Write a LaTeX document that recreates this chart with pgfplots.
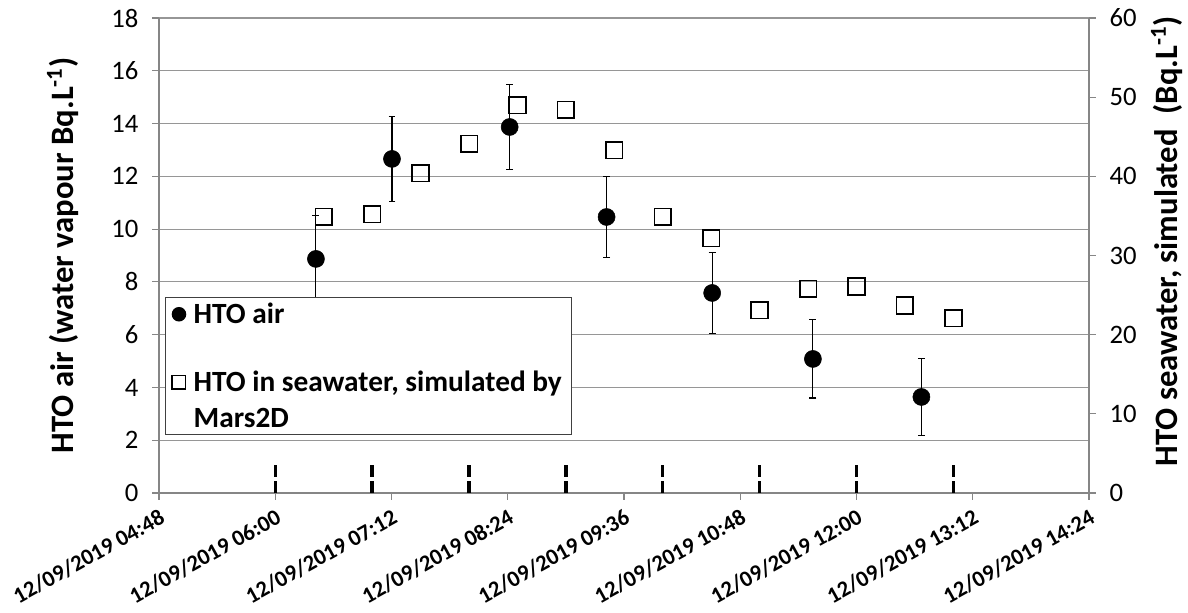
\documentclass[border=0pt]{standalone}
\usepackage{fontspec}
\setmainfont{Carlito}
\usepackage{pgfplots}
\pgfplotsset{compat=1.18}
\definecolor{axgray}{RGB}{134,134,134}
\definecolor{gridgray}{RGB}{150,150,150}

\begin{document}
\begin{tikzpicture}
\pgfplotsset{
  every axis/.append style={
    scale only axis, width=697.5pt, height=356.25pt,
    xmin=4.8, xmax=14.4,
    /pgf/number format/assume math mode=true,
    tick label style={font=\fontsize{20}{24}\selectfont},
    tick align=outside, major tick length=5pt,
    every tick/.style={axgray, line width=0.9pt},
    axis line style={axgray, line width=1.2pt},
  }
}
\begin{axis}[
  name=main,
  axis x line*=bottom, axis y line*=left,
  ymin=0, ymax=18, ytick={0,2,...,18},
  ymajorgrids, grid style={gridgray, line width=0.9pt},
  yticklabel style={xshift=-7pt},
  xtick={4.8,6,7.2,8.4,9.6,10.8,12,13.2,14.4},
  xticklabels={12/09/2019 04:48,12/09/2019 06:00,12/09/2019 07:12,12/09/2019 08:24,12/09/2019 09:36,12/09/2019 10:48,12/09/2019 12:00,12/09/2019 13:12,12/09/2019 14:24},
  xticklabel style={rotate=29, anchor=north east, yshift=-2pt,
    font=\bfseries\fontsize{17}{20}\selectfont},
  ylabel={HTO air (water vapour Bq.L\textsuperscript{-1})},
  ylabel style={at={([xshift=-72pt]rel axis cs:0,0.5)}, anchor=center,
    font=\bfseries\fontsize{24.5}{29}\selectfont},
]
% hourly sampling marks
\addplot[ycomb, black, line width=2.5pt, dash pattern=on 9pt off 3pt, no marks]
  coordinates {(6,1.06)(7,1.06)(8,1.06)(9,1.06)(10,1.06)(11,1.06)(12,1.06)(13,1.06)};
% HTO air with error bars
\addplot[only marks, mark=*, black, mark size=6.4pt,
  error bars/.cd, y dir=both, y explicit,
  error bar style={black, line width=0.8pt},
  error mark options={rotate=90, black, mark size=2.6pt, line width=0.8pt}]
  table[x=x, y=y, y error=e] {
x      y      e
6.42   8.87   1.66
7.205  12.66  1.6
8.42   13.87  1.6
9.42   10.46  1.55
10.51  7.58   1.52
11.55  5.08   1.48
12.67  3.64   1.46
};
\end{axis}

\begin{axis}[
  axis y line*=right, axis x line=none,
  ymin=0, ymax=60, ytick={0,10,...,60},
  yticklabel style={xshift=7pt},
  ylabel={HTO seawater, simulated\ \ (Bq.L\textsuperscript{-1})},
  ylabel style={at={([xshift=58.5pt]rel axis cs:1,0.53)}, anchor=center,
    font=\bfseries\fontsize{24.5}{29}\selectfont},
  legend style={at={(rel axis cs:0.0065,0.4126)}, anchor=north west,
    draw=black!75, line width=0.9pt, fill=white,
    font=\bfseries\fontsize{22}{27}\selectfont,
    cells={anchor=west}, row sep=30pt, column sep=4pt,
    inner xsep=5pt, inner ysep=2pt},
]
\addlegendimage{only marks, mark=*, black, mark size=5pt}
\addlegendentry{HTO air}
\addplot[only marks, mark=square, black, mark size=6.25pt, line width=1.25pt,
  mark options={fill=white},
  legend image code/.code={\draw[black, line width=1.25pt, only marks, mark=square, mark size=5pt]
    plot coordinates {(0.3cm,13.5pt)};}]
  coordinates {
(6.5,34.9)(7.0,35.2)(7.5,40.4)(8.0,44.1)(8.5,49.0)(9.0,48.4)(9.5,43.3)
(10.0,34.9)(10.5,32.2)(11.0,23.1)(11.5,25.8)(12.0,26.1)(12.5,23.7)(13.0,22.1)
};
\addlegendentry[align=left]{HTO in seawater, simulated by\\Mars2D}
\end{axis}
\pgfresetboundingbox
\path ([xshift=-119.25pt,yshift=-90pt]main.south west) rectangle ([xshift=74.25pt,yshift=13.5pt]main.north east);
\end{tikzpicture}
\end{document}
